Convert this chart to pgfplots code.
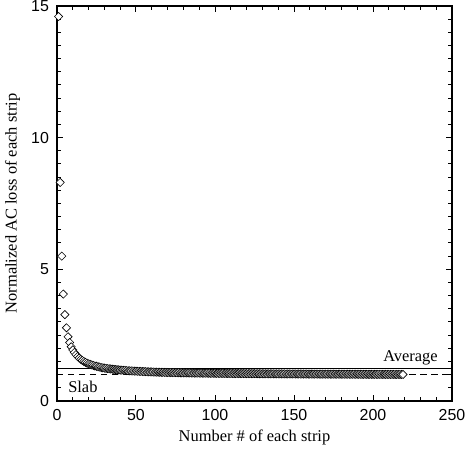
\documentclass[border=0pt]{standalone}
\usepackage{fontspec}
\setmainfont{Liberation Serif}
\setsansfont{Liberation Sans}
\usepackage{pgfplots}
\usepackage{pgfplotstable}
\pgfplotsset{compat=1.18}
\pgfplotstableread{
x y
1 14.6
2 8.3
3 5.5
4 4.06
5 3.28
6 2.78
7 2.44
8 2.22
9 2.06
10 1.94
11 1.84
12 1.76
13 1.69
14 1.63
15 1.58
16 1.54
17 1.50
18 1.47
19 1.44
20 1.41
21 1.39
22 1.37
23 1.35
24 1.33
25 1.32
26 1.30
27 1.29
28 1.27
29 1.26
30 1.25
31 1.24
32 1.23
33 1.225
34 1.216
35 1.208
36 1.201
37 1.195
38 1.188
39 1.182
40 1.176
41 1.171
42 1.166
43 1.161
44 1.156
45 1.151
46 1.147
47 1.143
48 1.139
49 1.135
50 1.131
51 1.128
52 1.125
53 1.122
54 1.119
55 1.116
56 1.113
57 1.110
58 1.107
59 1.105
60 1.103
61 1.100
62 1.098
63 1.096
64 1.094
65 1.092
66 1.090
67 1.088
68 1.086
69 1.084
70 1.083
71 1.081
72 1.080
73 1.078
74 1.077
75 1.075
76 1.074
77 1.073
78 1.071
79 1.070
80 1.069
81 1.068
82 1.067
83 1.066
84 1.065
85 1.064
86 1.063
87 1.062
88 1.061
89 1.060
90 1.059
91 1.058
92 1.057
93 1.056
94 1.056
95 1.055
96 1.054
97 1.053
98 1.053
99 1.052
100 1.051
101 1.050
102 1.050
103 1.049
104 1.048
105 1.048
106 1.047
107 1.046
108 1.046
109 1.045
110 1.045
111 1.044
112 1.043
113 1.043
114 1.042
115 1.042
116 1.041
117 1.041
118 1.040
119 1.040
120 1.039
121 1.039
122 1.038
123 1.038
124 1.037
125 1.037
126 1.036
127 1.036
128 1.035
129 1.035
130 1.034
131 1.034
132 1.034
133 1.033
134 1.033
135 1.032
136 1.032
137 1.031
138 1.031
139 1.031
140 1.030
141 1.030
142 1.030
143 1.029
144 1.029
145 1.028
146 1.028
147 1.028
148 1.027
149 1.027
150 1.027
151 1.026
152 1.026
153 1.026
154 1.025
155 1.025
156 1.025
157 1.024
158 1.024
159 1.024
160 1.023
161 1.023
162 1.023
163 1.022
164 1.022
165 1.022
166 1.022
167 1.021
168 1.021
169 1.021
170 1.020
171 1.020
172 1.020
173 1.020
174 1.019
175 1.019
176 1.019
177 1.018
178 1.018
179 1.018
180 1.018
181 1.017
182 1.017
183 1.017
184 1.017
185 1.016
186 1.016
187 1.016
188 1.016
189 1.015
190 1.015
191 1.015
192 1.015
193 1.014
194 1.014
195 1.014
196 1.014
197 1.013
198 1.013
199 1.013
200 1.013
201 1.012
202 1.012
203 1.012
204 1.012
205 1.011
206 1.011
207 1.011
208 1.011
209 1.011
210 1.010
211 1.010
212 1.010
213 1.010
214 1.009
215 1.009
216 1.009
217 1.009
218 1.008
219 1.008
}\striploss
\begin{document}
\begin{tikzpicture}
\path[use as bounding box] (-57bp,-48bp) rectangle (409bp,401bp);
\begin{axis}[
  at={(0,0)}, anchor=south west,
  scale only axis, width=395bp, height=395bp,
  xmin=0, xmax=250, ymin=0, ymax=15,
  xtick={0,50,100,150,200,250}, ytick={0,5,10,15},
  minor x tick num=4, minor y tick num=9,
  tick align=inside,
  major tick length=6bp, minor tick length=4bp,
  every tick/.style={line width=1bp, black},
  axis line style={line width=1.3bp},
  /pgf/number format/assume math mode=true,
  ticklabel style={font=\sffamily\fontsize{16}{16}\selectfont},
  xticklabel style={yshift=-5bp},
  yticklabel style={xshift=-4.5bp},
  xlabel={Number \# of each strip},
  ylabel={Normalized AC loss of each strip},
  label style={font=\fontsize{16.5}{18}\selectfont},
  xlabel style={at={(axis description cs:0.5,-0.103)}, anchor=base},
  ylabel style={at={(axis description cs:-0.1127,0.5)}, anchor=center},
  clip=false,
]
\addplot[only marks, mark=square*, mark size=2.9bp,
  mark options={rotate=45, fill=white, draw=black, line width=0.6bp}]
  table[x=x, y=y] {\striploss};
\addplot[black, line width=1bp] coordinates {(0,1.22) (250,1.22)};
\addplot[black, line width=1bp, dash pattern=on 6.5bp off 4.5bp] coordinates {(0,1.0) (250,1.0)};
\node[anchor=base east, inner sep=0pt, font=\fontsize{16.5}{18}\selectfont] at (axis cs:241.1,1.49) {Average};
\node[anchor=base west, inner sep=0pt, font=\fontsize{16.5}{18}\selectfont] at (axis cs:7.0,0.34) {Slab};
\end{axis}
\end{tikzpicture}
\end{document}
